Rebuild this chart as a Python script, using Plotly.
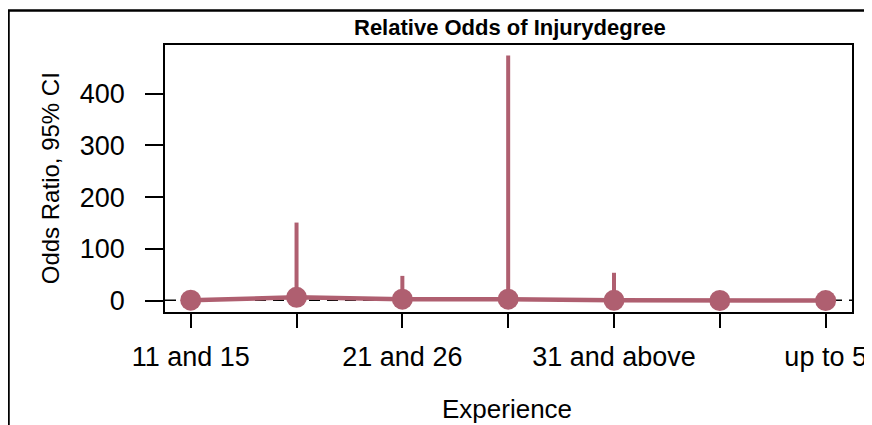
import plotly.graph_objects as go

# ---- data ----
positions = [1, 2, 3, 4, 5, 6, 7]
tick_labels = ["11 and 15", "", "21 and 26", "", "31 and above", "", "up to 5"]
odds_ratio = [1.0, 6.5, 3.0, 3.0, 0.8, 0.5, 0.3]
ci_upper = [4.0, 151.0, 48.0, 474.0, 54.0, 3.0, 2.0]
ci_lower = [0.2, 0.4, 0.2, 0.02, 0.01, 0.1, 0.05]
y_ticks = [0, 100, 200, 300, 400]

title_text = "Relative Odds of Injurydegree"
x_title = "Experience"
y_title = "Odds Ratio, 95% CI"

COL = "#AF5F70"
FONT = "Liberation Sans, Arial, sans-serif"

# page body has an 8px margin, so figure coords = screen coords - 8
OFF = 8
W, H = 872 - OFF, 425 - OFF
L, R, T, B = 165 - OFF, 852 - OFF, 44.5 - OFF, 312 - OFF


def px_x(p):
    return (p - OFF - L) / (R - L)


def px_y(p):
    return (B - (p - OFF)) / (B - T)


err_plus = [u - o for u, o in zip(ci_upper, odds_ratio)]
err_minus = [o - l for o, l in zip(odds_ratio, ci_lower)]

fig = go.Figure()
fig.add_trace(go.Scatter(
    x=positions, y=odds_ratio, mode="lines+markers",
    line=dict(color=COL, width=4.5),
    marker=dict(color=COL, size=21, line=dict(width=0)),
    error_y=dict(type="data", symmetric=False, array=err_plus,
                 arrayminus=err_minus, color=COL, thickness=4, width=0),
    showlegend=False, hoverinfo="x+y",
))

fig.update_layout(
    width=W, height=H,
    margin=dict(l=L, r=W - R, t=T, b=H - B, pad=0),
    paper_bgcolor="white", plot_bgcolor="white",
    font=dict(family=FONT, color="black", size=27),
    showlegend=False,
)

fig.update_xaxes(
    range=[0.757, 7.249], tickmode="array", tickvals=positions, ticktext=tick_labels,
    showgrid=False, zeroline=False, showline=True, mirror=True,
    linecolor="black", linewidth=1.5,
    ticks="outside", ticklen=14, tickwidth=1.5, tickcolor="black",
    tickfont=dict(size=27, family=FONT, color="black"),
    ticklabelstandoff=6, automargin=False,
)
fig.update_yaxes(
    range=[-21.8, 494.1], tickmode="array", tickvals=y_ticks,
    showgrid=False, zeroline=False, showline=True, mirror=True,
    linecolor="black", linewidth=1.5,
    ticks="outside", ticklen=18, tickwidth=1.5, tickcolor="black",
    tickfont=dict(size=27, family=FONT, color="black"),
    ticklabelstandoff=15, automargin=False,
)

# reference line at OR = 1
fig.add_shape(type="line", xref="paper", yref="y", x0=0, x1=1, y0=1, y1=1,
              line=dict(color="black", width=1.5, dash="11px,7px"), layer="below")

# outer frame (left and top edges visible)
fig.add_shape(type="rect", xref="paper", yref="paper",
              x0=px_x(8.5), x1=px_x(900), y0=px_y(440), y1=px_y(10),
              line=dict(color="black", width=2.5), fillcolor="rgba(0,0,0,0)")

fig.add_annotation(text="<b>" + title_text + "</b>", xref="paper", yref="paper",
                   x=px_x(510), y=px_y(27), showarrow=False,
                   font=dict(size=22, family=FONT, color="black"),
                   xanchor="center", yanchor="middle")
fig.add_annotation(text=x_title, xref="paper", yref="paper",
                   x=px_x(507), y=px_y(409), showarrow=False, borderpad=0,
                   font=dict(size=26, family=FONT, color="black"),
                   xanchor="center", yanchor="middle")
fig.add_annotation(text=y_title, xref="paper", yref="paper",
                   x=px_x(50), y=px_y(178), showarrow=False, textangle=-90,
                   font=dict(size=24, family=FONT, color="black"),
                   xanchor="center", yanchor="middle")

fig.write_html("out.html")
